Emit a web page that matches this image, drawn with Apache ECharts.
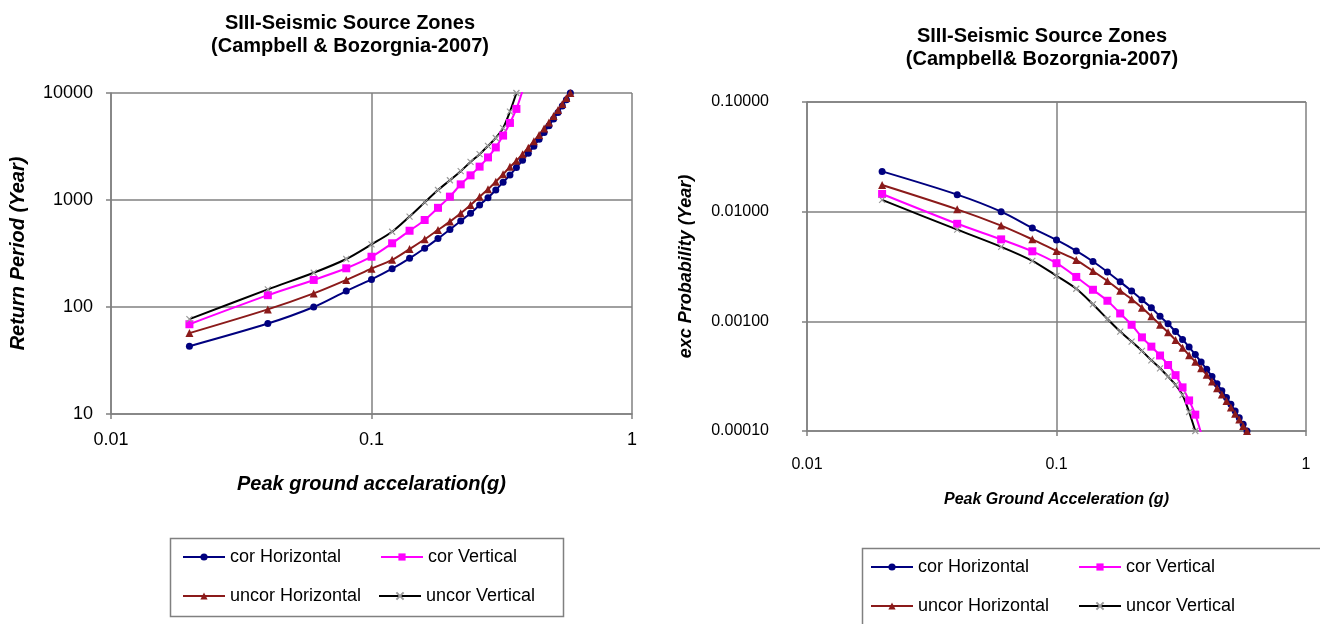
<!DOCTYPE html>
<html>
<head>
<meta charset="utf-8">
<script src="https://cdn.jsdelivr.net/npm/echarts@6/dist/echarts.min.js"></script>
<style>
  html, body { margin: 0; padding: 0; background: #fff; }
  #chart { width: 1320px; height: 624px; }
</style>
</head>
<body>
<div id="chart"></div>
<script>
// ---- Data ----
const pga = [0.02, 0.04, 0.06, 0.08, 0.10, 0.12, 0.14, 0.16, 0.18, 0.20, 0.22, 0.24, 0.26, 0.28, 0.30,
             0.32, 0.34, 0.36, 0.38, 0.40, 0.42, 0.44, 0.46, 0.48, 0.50, 0.52, 0.54, 0.56, 0.58];

// Left chart: return period (years)
const rpCorH   = [43, 70, 100, 141, 181, 228, 285, 354, 436, 530, 636, 751, 898, 1050, 1240,
                  1463, 1714, 2010, 2355, 2736, 3184, 3700, 4285, 4943, 5715, 6590, 7565, 8660, 10000];
const rpCorV   = [69, 129, 179, 230, 295, 394, 516, 650, 845, 1075, 1400, 1700, 2050, 2500, 3100,
                  4000, 5250, 7100, 10500];
const rpUncorH = [57, 95, 134, 179, 228, 276, 348, 430, 525, 628, 751, 898, 1074, 1260, 1483,
                  1740, 2040, 2330, 2680, 3080, 3540, 4060, 4650, 5310, 6080, 6950, 7900, 9000, 10000];
const rpUncorV = [77, 146, 209, 281, 385, 505, 700, 950, 1240, 1530, 1860, 2270, 2680, 3200, 3800,
                  4700, 6700, 10000];

// Right chart: exceedance probability
const pCorH   = [0.0233, 0.0143, 0.0100, 0.00709, 0.00552, 0.00439, 0.00351, 0.00282, 0.00229, 0.00189,
                 0.00157, 0.00133, 0.00111, 0.000952, 0.000806, 0.000684, 0.000583, 0.000498, 0.000425,
                 0.000365, 0.000314, 0.000270, 0.000233, 0.000202, 0.000175, 0.000152, 0.000132, 0.000115, 0.000100];
const pCorV   = [0.0145, 0.00775, 0.00559, 0.00435, 0.00339, 0.00254, 0.00194, 0.00154, 0.00118, 0.000930,
                 0.000714, 0.000588, 0.000488, 0.000400, 0.000323, 0.000250, 0.000190, 0.000141, 0.0000952];
const pUncorH = [0.0175, 0.0105, 0.00746, 0.00559, 0.00439, 0.00362, 0.00287, 0.00233, 0.00190, 0.00159,
                 0.00133, 0.00111, 0.000931, 0.000794, 0.000674, 0.000575, 0.000490, 0.000429, 0.000373,
                 0.000325, 0.000282, 0.000246, 0.000215, 0.000188, 0.000164, 0.000144, 0.000127, 0.000111, 0.000100];
const pUncorV = [0.0128, 0.00685, 0.00478, 0.00356, 0.00260, 0.00198, 0.00143, 0.00105, 0.000806, 0.000654,
                 0.000538, 0.000441, 0.000373, 0.000313, 0.000263, 0.000213, 0.000149, 0.000100];

const seriesNames = ['cor Horizontal', 'cor Vertical', 'uncor Horizontal', 'uncor Vertical'];
const titleLeft  = 'SIII-Seismic Source Zones\n(Campbell & Bozorgnia-2007)';
const titleRight = 'SIII-Seismic Source Zones\n(Campbell& Bozorgnia-2007)';

// ---- Styles ----
const FONT = "'Liberation Sans', Arial, sans-serif";
const styles = {
  'cor Horizontal':   { color: '#00007f', symbol: 'circle', size: 7, mcolor: '#00007f' },
  'cor Vertical':     { color: '#ff00ff', symbol: 'rect', size: 8, mcolor: '#ff00ff' },
  'uncor Horizontal': { color: '#8b1a1a', symbol: 'triangle', size: 8, mcolor: '#8b1a1a' },
  'uncor Vertical':   { color: '#000000', symbol: 'path://M0,0L10,10M10,0L0,10', size: 6, mcolor: '#9a9a9a' }
};

function mkSeries(name, xs, ys, idx) {
  const s = styles[name];
  return {
    name: name, type: 'line', xAxisIndex: idx, yAxisIndex: idx,
    data: ys.map((v, i) => [xs[i], v]),
    smooth: 0.3, clip: true,
    symbol: s.symbol, symbolSize: s.size, showSymbol: true, showAllSymbol: true,
    lineStyle: { color: s.color, width: 2 },
    itemStyle: { color: s.mcolor, borderColor: s.mcolor, borderWidth: name === 'uncor Vertical' ? 1.2 : 0 },
    emphasis: { disabled: true }
  };
}

const gridLine = { show: true, lineStyle: { color: '#808080', width: 1.5 } };
const axLine = { show: true, lineStyle: { color: '#808080', width: 1.5 } };
const tick = { show: true, inside: false, length: 5, lineStyle: { color: '#808080', width: 1.5 } };
const nameStyle = { fontFamily: FONT, fontWeight: 'bold', fontStyle: 'italic', fontSize: 20, color: '#000' };
const titleStyle = { fontFamily: FONT, fontWeight: 'bold', fontSize: 20, lineHeight: 23, color: '#000' };

function fmtX(v) { return String(+(+v).toPrecision(6)); }

function mkLegend(name, left, top) {
  return {
    data: [name], left: left, top: top, padding: 0, selectedMode: false,
    itemWidth: 42, itemHeight: 9, itemGap: 0,
    textStyle: { fontFamily: FONT, fontSize: 18, color: '#000', lineHeight: 20 }
  };
}

const option = {
  animation: false,
  backgroundColor: '#ffffff',
  title: [
    { text: titleLeft, left: 345, top: 7, textAlign: 'center', textStyle: titleStyle },
    { text: titleRight, left: 1037, top: 20, textAlign: 'center', textStyle: titleStyle }
  ],
  grid: [
    { left: 111, top: 93, width: 521, height: 321, containLabel: false, show: false },
    { left: 807, top: 102, width: 499, height: 329, containLabel: false, show: false }
  ],
  xAxis: [
    { type: 'log', logBase: 10, min: 0.01, max: 1, gridIndex: 0,
      axisLine: axLine, axisTick: tick, splitLine: gridLine, minorTick: { show: false },
      axisLabel: { formatter: fmtX, fontFamily: FONT, fontSize: 18, color: '#000', margin: 17 },
      name: 'Peak ground accelaration(g)', nameLocation: 'middle', nameGap: 60, nameTextStyle: nameStyle },
    { type: 'log', logBase: 10, min: 0.01, max: 1, gridIndex: 1,
      axisLine: axLine, axisTick: tick, splitLine: gridLine,
      axisLabel: { formatter: fmtX, fontFamily: FONT, fontSize: 16, color: '#000', margin: 26 },
      name: 'Peak Ground Acceleration (g)', nameLocation: 'middle', nameGap: 61,
      nameTextStyle: Object.assign({}, nameStyle, { fontSize: 16 }) }
  ],
  yAxis: [
    { type: 'log', logBase: 10, min: 10, max: 10000, gridIndex: 0,
      axisLine: axLine, axisTick: tick, splitLine: gridLine,
      axisLabel: { formatter: v => String(Math.round(v)), fontFamily: FONT, fontSize: 18, color: '#000', margin: 18 },
      name: 'Return Period (Year)', nameLocation: 'middle', nameRotate: 90, nameGap: 83, nameTextStyle: nameStyle },
    { type: 'log', logBase: 10, min: 0.0001, max: 0.1, gridIndex: 1,
      axisLine: axLine, axisTick: tick, splitLine: gridLine,
      axisLabel: { formatter: v => (+v).toFixed(5), fontFamily: FONT, fontSize: 16, color: '#000', margin: 38 },
      name: 'exc Probability (Year)', nameLocation: 'middle', nameRotate: 90, nameGap: 112,
      nameTextStyle: Object.assign({}, nameStyle, { fontSize: 18 }) }
  ],
  legend: [
    mkLegend(seriesNames[0], 182, 547),
    mkLegend(seriesNames[1], 380, 547),
    mkLegend(seriesNames[2], 182, 586),
    mkLegend(seriesNames[3], 378, 586),
    mkLegend(seriesNames[0], 870, 557),
    mkLegend(seriesNames[1], 1078, 557),
    mkLegend(seriesNames[2], 870, 596),
    mkLegend(seriesNames[3], 1078, 596)
  ],
  graphic: [
    { type: 'rect', shape: { x: 170.5, y: 538.5, width: 393, height: 78 },
      style: { fill: 'none', stroke: '#808080', lineWidth: 1.5 }, silent: true },
    { type: 'rect', shape: { x: 862.5, y: 548.5, width: 470, height: 100 },
      style: { fill: 'none', stroke: '#808080', lineWidth: 1.5 }, silent: true }
  ],
  series: [
    mkSeries(seriesNames[0], pga, rpCorH, 0),
    mkSeries(seriesNames[1], pga, rpCorV, 0),
    mkSeries(seriesNames[2], pga, rpUncorH, 0),
    mkSeries(seriesNames[3], pga, rpUncorV, 0),
    mkSeries(seriesNames[0], pga, pCorH, 1),
    mkSeries(seriesNames[1], pga, pCorV, 1),
    mkSeries(seriesNames[2], pga, pUncorH, 1),
    mkSeries(seriesNames[3], pga, pUncorV, 1)
  ]
};

const chart = echarts.init(document.getElementById('chart'), null, { renderer: 'canvas' });
chart.setOption(option);
</script>
</body>
</html>
